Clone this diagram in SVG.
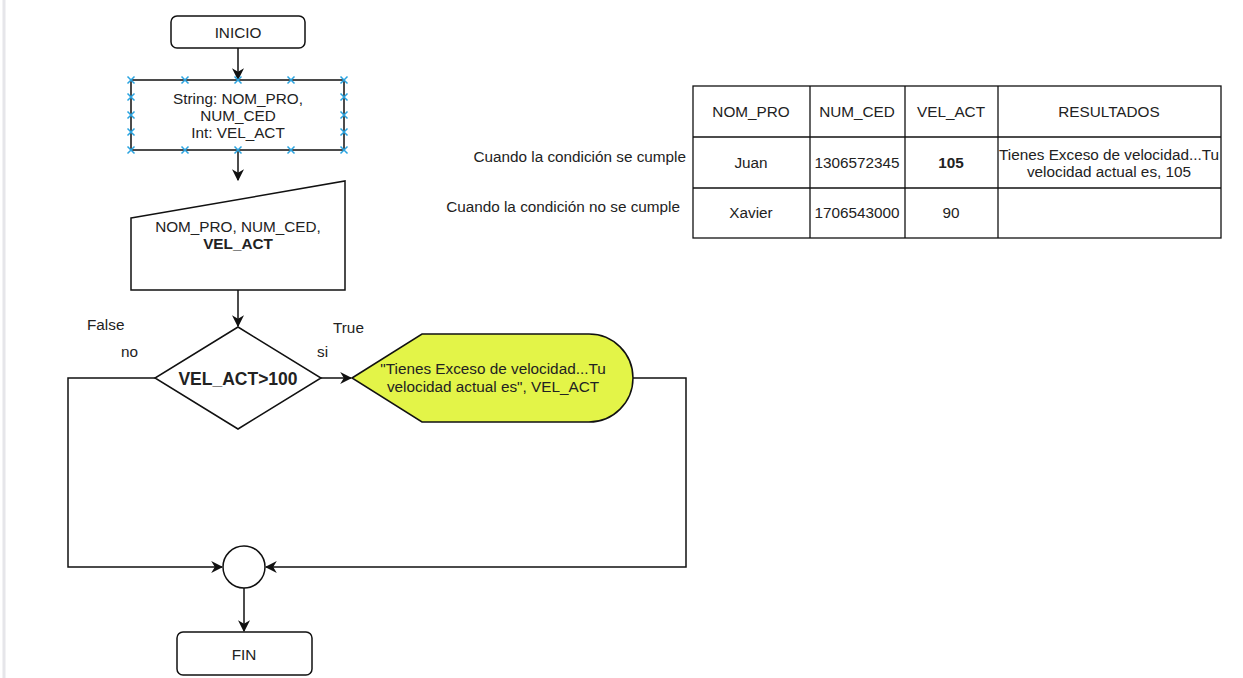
<svg xmlns="http://www.w3.org/2000/svg" width="1243" height="678" viewBox="0 0 1243 678">
<defs>
<marker id="ahw" viewBox="0 0 10 10" refX="9" refY="5" markerWidth="12" markerHeight="12" markerUnits="userSpaceOnUse" orient="auto">
<path d="M0,0 L10,5 L0,10 L3,5 Z" fill="#111"/>
</marker>
<g id="xm"><path d="M-3.5,-3.5 L3.5,3.5 M-3.5,3.5 L3.5,-3.5" stroke="#29a3e0" stroke-width="1.5"/></g>
</defs>
<style>
text{font-family:"Liberation Sans",Arial,sans-serif;font-size:15.3px;fill:#222;}
.b{font-weight:bold;}
.c{text-anchor:middle;}
.r{text-anchor:end;}
.s{fill:#fff;stroke:#111;stroke-width:1.5;}
.e{fill:none;stroke:#111;stroke-width:1.5;}
.t{fill:none;stroke:#111;stroke-width:1.3;}
</style>
<rect width="1243" height="678" fill="#fff"/>
<line x1="4" y1="0" x2="4" y2="678" stroke="#e6e6ea" stroke-width="3"/>

<g id="connectors">
<line class="e" x1="238" y1="48" x2="238" y2="79" marker-end="url(#ahw)"/>
<line class="e" x1="238" y1="150" x2="238" y2="180" marker-end="url(#ahw)"/>
<line class="e" x1="238" y1="290" x2="238" y2="326" marker-end="url(#ahw)"/>
<line class="e" x1="321" y1="378" x2="351" y2="378" marker-end="url(#ahw)"/>
<polyline class="e" points="633,378 686,378 686,567 266,567" marker-end="url(#ahw)"/>
<polyline class="e" points="155,378 68,378 68,567 222,567" marker-end="url(#ahw)"/>
<line class="e" x1="244" y1="588" x2="244" y2="631" marker-end="url(#ahw)"/>
</g>

<g id="inicio">
<rect class="s" x="171" y="16" width="134" height="32" rx="6"/>
<text class="c" x="238" y="38">INICIO</text>
</g>

<g id="declaracion">
<rect class="s" x="131" y="80" width="213" height="70"/>
<text class="c" x="238" y="104">String: NOM_PRO,</text>
<text class="c" x="238" y="121">NUM_CED</text>
<text class="c" x="238" y="138">Int: VEL_ACT</text>
<use href="#xm" x="131" y="80"/><use href="#xm" x="185" y="80"/><use href="#xm" x="238" y="80"/><use href="#xm" x="291" y="80"/><use href="#xm" x="344" y="80"/>
<use href="#xm" x="131" y="150"/><use href="#xm" x="185" y="150"/><use href="#xm" x="238" y="150"/><use href="#xm" x="291" y="150"/><use href="#xm" x="344" y="150"/>
<use href="#xm" x="131" y="97"/><use href="#xm" x="131" y="115"/><use href="#xm" x="131" y="132"/>
<use href="#xm" x="344" y="97"/><use href="#xm" x="344" y="115"/><use href="#xm" x="344" y="132"/>
</g>

<g id="entrada">
<polygon class="s" points="131,218 345,181 345,290 131,290"/>
<text class="c" x="238" y="232">NOM_PRO, NUM_CED,</text>
<text class="c b" x="238" y="249">VEL_ACT</text>
</g>

<g id="decision">
<polygon class="s" points="238,327 321,378 238,429 155,378"/>
<text class="c b" x="238" y="385" style="font-size:17.5px">VEL_ACT&gt;100</text>
<text x="87" y="330">False</text>
<text x="121" y="357">no</text>
<text x="333" y="333">True</text>
<text x="317" y="357">si</text>
</g>

<g id="salida">
<path d="M352,378 L422,334 L589,334 A44,44 0 0 1 589,422 L422,422 Z" fill="#e3f448" stroke="#111" stroke-width="1.5"/>
<text class="c" x="493" y="374">"Tienes Exceso de velocidad...Tu</text>
<text class="c" x="493" y="392">velocidad actual es", VEL_ACT</text>
</g>

<g id="union">
<circle class="s" cx="244" cy="567" r="21"/>
</g>

<g id="fin">
<rect class="s" x="177" y="632" width="135" height="43" rx="6"/>
<text class="c" x="244" y="660">FIN</text>
</g>

<g id="tabla">
<rect class="t" x="693" y="86" width="528" height="152" fill="#fff"/>
<line class="t" x1="693" y1="137" x2="1221" y2="137"/>
<line class="t" x1="693" y1="188" x2="1221" y2="188"/>
<line class="t" x1="810" y1="86" x2="810" y2="238"/>
<line class="t" x1="905" y1="86" x2="905" y2="238"/>
<line class="t" x1="998" y1="86" x2="998" y2="238"/>
<text class="c" x="751" y="117">NOM_PRO</text>
<text class="c" x="857" y="117">NUM_CED</text>
<text class="c" x="951" y="117">VEL_ACT</text>
<text class="c" x="1109" y="117">RESULTADOS</text>
<text class="c" x="751" y="168">Juan</text>
<text class="c" x="857" y="168">1306572345</text>
<text class="c b" x="951" y="168">105</text>
<text class="c" x="1109" y="160">Tienes Exceso de velocidad...Tu</text>
<text class="c" x="1109" y="177">velocidad actual es, 105</text>
<text class="c" x="751" y="218">Xavier</text>
<text class="c" x="857" y="218">1706543000</text>
<text class="c" x="951" y="218">90</text>
</g>

<g id="notas">
<text class="r" x="686" y="162">Cuando la condición se cumple</text>
<text class="r" x="680" y="212">Cuando la condición no se cumple</text>
</g>
</svg>
